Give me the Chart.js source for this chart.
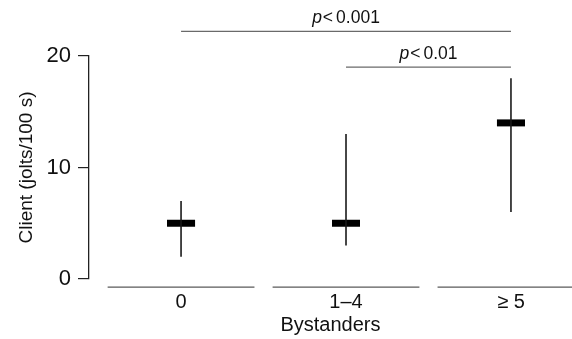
<!DOCTYPE html>
<html>
<head>
<meta charset="utf-8">
<script src="https://cdn.jsdelivr.net/npm/chart.js@4.4.1/dist/chart.umd.min.js"></script>
<style>
  html, body { margin: 0; padding: 0; background: #ffffff; }
  #wrap { width: 572px; height: 339px; position: relative; }
</style>
</head>
<body>
<div id="wrap"><canvas id="c" width="572" height="339"></canvas></div>
<script>
// ---- data ----
const categories = ['0', '1\u20134', '\u2265 5'];
const medians = [5, 5, 14];
const lows = [2, 3, 6];
const highs = [7, 13, 18];
const yTicks = [0, 10, 20];
const compLabels = ['0.001', '0.01'];
const compFrom = [0, 1];
const compTo = [2, 2];

// ---- styling / layout constants ----
const FONT = '"Liberation Sans", Arial, Helvetica, sans-serif';
const compLevels = [22.2, 19.0];   // bracket heights (value units)
const medianHalf = 0.085;          // half-width of median bar (category units)
const baseHalf = 0.445;            // half-width of category baseline
const baseLevel = -0.72;           // baseline level below zero

const datasets = [];
categories.forEach((c, i) => {
  datasets.push({
    data: [{x: i, y: lows[i]}, {x: i, y: highs[i]}],
    borderColor: '#1a1a1a', borderWidth: 1.6, clip: false
  });
});
categories.forEach((c, i) => {
  datasets.push({
    data: [{x: i - medianHalf, y: medians[i]}, {x: i + medianHalf, y: medians[i]}],
    borderColor: '#000000', borderWidth: 7, borderCapStyle: 'butt', clip: false
  });
});
categories.forEach((c, i) => {
  datasets.push({
    data: [{x: i - baseHalf, y: baseLevel}, {x: i + baseHalf, y: baseLevel}],
    borderColor: '#5a5a5a', borderWidth: 1.3, clip: false
  });
});
compLabels.forEach((l, k) => {
  datasets.push({
    data: [{x: compFrom[k], y: compLevels[k]}, {x: compTo[k], y: compLevels[k]}],
    borderColor: '#6a6a6a', borderWidth: 1.3, clip: false
  });
});
datasets.forEach(d => { d.showLine = true; d.pointRadius = 0; d.fill = false; d.tension = 0; });

const pTextPlugin = {
  id: 'pText',
  afterDatasetsDraw(chart) {
    const {ctx, scales: {x, y}} = chart;
    ctx.save();
    ctx.fillStyle = '#111';
    ctx.textBaseline = 'alphabetic';
    compLabels.forEach((l, k) => {
      const cx = x.getPixelForValue((compFrom[k] + compTo[k]) / 2);
      const py = y.getPixelForValue(compLevels[k]) - 8;
      const pFont = 'italic 17.5px ' + FONT;
      const rFont = '17.5px ' + FONT;
      ctx.font = pFont; const wp = ctx.measureText('p').width;
      ctx.font = rFont; const wl = ctx.measureText('<').width;
      const wn = ctx.measureText(l).width;
      const gap = 3;
      const total = wp + 1 + wl + gap + wn;
      let sx = cx - total / 2;
      ctx.textAlign = 'left';
      ctx.font = pFont; ctx.fillText('p', sx, py); sx += wp + 1;
      ctx.font = rFont; ctx.fillText('<', sx, py); sx += wl + gap;
      ctx.fillText(l, sx, py);
    });
    ctx.restore();
  }
};

new Chart(document.getElementById('c'), {
  type: 'scatter',
  data: { datasets },
  plugins: [pTextPlugin],
  options: {
    responsive: false,
    animation: false,
    events: [],
    layout: { padding: { top: 56, right: 0, bottom: 0, left: 0 } },
    plugins: { legend: { display: false }, tooltip: { enabled: false } },
    scales: {
      x: {
        type: 'linear', min: -0.558, max: 2.37,
        afterBuildTicks(s) { s.ticks = categories.map((c, i) => ({value: i})); },
        afterFit(s) { s.height = 60; },
        grid: { display: false, drawTicks: false },
        border: { display: false },
        ticks: {
          color: '#111', padding: 11, maxRotation: 0, autoSkip: false,
          font: { family: FONT, size: 20 },
          callback: (v) => categories[v]
        },
        title: { display: true, text: 'Bystanders', color: '#111',
                 font: { family: FONT, size: 20 }, padding: { top: 0, bottom: 2 } }
      },
      y: {
        min: 0, max: 20,
        afterBuildTicks(s) { s.ticks = yTicks.map(v => ({value: v})); },
        afterFit(s) { s.width = 89; },
        grid: { drawOnChartArea: false, drawTicks: true, tickLength: 11, color: '#222', lineWidth: 1.2 },
        border: { display: true, color: '#222', width: 1.3 },
        ticks: { color: '#111', padding: 7, font: { family: FONT, size: 22 } },
        title: { display: true, text: 'Client (jolts/100 s)', color: '#111',
                 font: { family: FONT, size: 19 }, padding: { top: 15, bottom: 0 } }
      }
    }
  }
});
</script>
</body>
</html>
